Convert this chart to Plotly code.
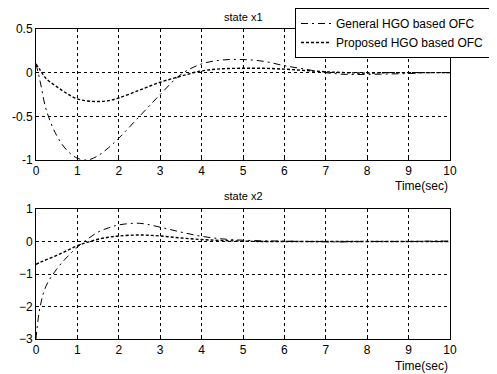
import plotly.graph_objects as go

t = [0, 0.1, 0.25, 0.5, 0.75, 1, 1.25, 1.5, 1.75, 2, 2.5, 3, 3.5, 4, 4.5, 5,
     5.5, 6, 6.5, 7, 7.5, 8, 8.5, 9, 9.5, 10]
x1_general = [0.1, -0.1, -0.43, -0.72, -0.89, -0.98, -1.0, -0.95, -0.86, -0.75,
              -0.5, -0.25, -0.02, 0.1, 0.145, 0.15, 0.13, 0.08, 0.04, 0.0,
              -0.02, -0.02, -0.015, -0.01, 0.0, 0.0]
x1_proposed = [0.1, 0.03, -0.07, -0.16, -0.24, -0.3, -0.325, -0.33, -0.32, -0.29,
               -0.2, -0.11, -0.04, 0.02, 0.045, 0.05, 0.05, 0.04, 0.025, 0.01,
               0.0, -0.005, 0.0, 0.0, 0.0, 0.0]
x2_general = [-3.0, -2.0, -1.35, -0.85, -0.48, -0.17, 0.08, 0.29, 0.42, 0.51,
              0.56, 0.44, 0.29, 0.16, 0.08, 0.04, 0.02, 0.01, 0.0, -0.01,
              -0.01, 0.0, 0.0, 0.0, 0.01, 0.01]
x2_proposed = [-0.7, -0.64, -0.56, -0.43, -0.28, -0.13, -0.02, 0.07, 0.13, 0.17,
               0.2, 0.17, 0.11, 0.06, 0.03, 0.01, 0.0, 0.0, 0.0, 0.0,
               0.0, 0.0, 0.0, 0.0, 0.0, 0.0]
x_ticks = list(range(0, 11))
y1_ticks = [0.5, 0, -0.5, -1]
y1_labels = ["0.5", "0", "-0.5", "-1"]
y2_ticks = [1, 0, -1, -2, -3]
names = ["General HGO based OFC", "Proposed HGO based OFC"]

# page body has an 8px margin; work in reference-pixel coords shifted by it
OFF = 8
W, H = 497 - OFF, 374 - OFF
L = 36 - OFF
R = W - (450 - OFF)
PW = W - L - R
fig = go.Figure()

general_dash = "7px,4px,2px,4px"
proposed_dash = "3px,2px"

fig.add_trace(go.Scatter(x=t, y=x1_general, mode="lines", name=names[0],
                         line=dict(color="black", width=1, dash=general_dash, shape="spline"),
                         xaxis="x", yaxis="y"))
fig.add_trace(go.Scatter(x=t, y=x1_proposed, mode="lines", name=names[1],
                         line=dict(color="black", width=1.4, dash=proposed_dash, shape="spline"),
                         xaxis="x", yaxis="y"))
fig.add_trace(go.Scatter(x=t, y=x2_general, mode="lines", showlegend=False,
                         line=dict(color="black", width=1, dash=general_dash, shape="spline"),
                         xaxis="x2", yaxis="y2"))
fig.add_trace(go.Scatter(x=t, y=x2_proposed, mode="lines", showlegend=False,
                         line=dict(color="black", width=1.4, dash=proposed_dash, shape="spline"),
                         xaxis="x2", yaxis="y2"))

def py(p):
    return (H - (p - OFF)) / H

def px(p):
    return (p - OFF - L) / PW

FAM = "Liberation Sans, Arial"
font = dict(family=FAM, size=12, color="black")
axcommon = dict(showline=True, mirror=True, linecolor="black", linewidth=1,
                showgrid=True, gridcolor="black", gridwidth=1, griddash="dot",
                zeroline=False, ticks="inside", ticklen=3, tickcolor="black",
                tickfont=font, automargin=False)

fig.update_layout(
    width=W, height=H,
    margin=dict(l=L, r=R, t=0, b=0, autoexpand=False),
    paper_bgcolor="white", plot_bgcolor="white",
    font=font,
    xaxis=dict(domain=[0, 1], range=[0, 10], tickvals=x_ticks, anchor="y", **axcommon),
    yaxis=dict(domain=[py(160), py(29)], range=[-1, 0.5], tickvals=y1_ticks,
               ticktext=y1_labels, anchor="x", **axcommon),
    xaxis2=dict(domain=[0, 1], range=[0, 10], tickvals=x_ticks, anchor="y2", **axcommon),
    yaxis2=dict(domain=[py(339), py(209)], range=[-3, 1], tickvals=y2_ticks,
                anchor="x2", **axcommon),
    showlegend=True,
    legend=dict(x=px(490), y=1.0, xanchor="right", yanchor="top",
                bordercolor="black", borderwidth=1, bgcolor="white",
                font=dict(family=FAM, size=12, color="black"),
                tracegroupgap=0, itemwidth=30),
    annotations=[
        dict(text="state x1", x=0.5, y=py(17), xref="paper", yref="paper",
             yanchor="middle", showarrow=False, font=dict(family=FAM, size=11)),
        dict(text="state x2", x=0.5, y=py(196), xref="paper", yref="paper",
             yanchor="middle", showarrow=False, font=dict(family=FAM, size=11)),
        dict(text="Time(sec)", x=1.0, y=py(186), xref="paper", yref="paper",
             xanchor="right", yanchor="middle", showarrow=False, font=dict(family=FAM, size=12)),
        dict(text="Time(sec)", x=1.0, y=py(366), xref="paper", yref="paper",
             xanchor="right", yanchor="middle", showarrow=False, font=dict(family=FAM, size=12)),
    ],
)

fig.write_html("out.html")
